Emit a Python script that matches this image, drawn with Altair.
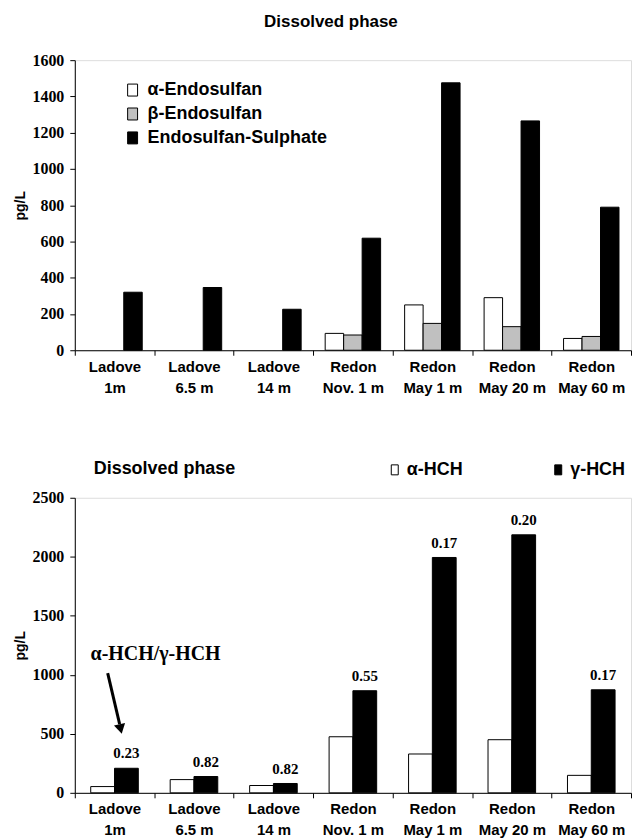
import altair as alt
import pandas as pd

SANS = "Liberation Sans"
SERIF = "Liberation Serif"

sites = ["Ladove|1m", "Ladove|6.5 m", "Ladove|14 m", "Redon|Nov. 1 m",
         "Redon|May 1 m", "Redon|May 20 m", "Redon|May 60 m"]

endo_names = ["α-Endosulfan", "β-Endosulfan", "Endosulfan-Sulphate"]
alpha_endo = [None, None, None, 93, 250, 290, 65]
beta_endo = [None, None, None, 84, 148, 130, 76]
endo_sulph = [320, 346, 226, 618, 1475, 1265, 789]

hch_names = ["α-HCH", "γ-HCH"]
alpha_hch = [53, 112, 62, 475, 329, 450, 148]
gamma_hch = [208, 138, 79, 865, 1994, 2186, 873]
ratio_labels = ["0.23", "0.82", "0.82", "0.55", "0.17", "0.20", "0.17"]

top_ticks = [0, 200, 400, 600, 800, 1000, 1200, 1400, 1600]
bottom_ticks = [0, 500, 1000, 1500, 2000, 2500]

W = 558

rows = []
for name, vals in zip(endo_names, [alpha_endo, beta_endo, endo_sulph]):
    for s, v in zip(sites, vals):
        if v is not None:
            rows.append({"site": s, "compound": name, "value": v})
endo_df = pd.DataFrame(rows)

rows = []
for name, vals in zip(hch_names, [alpha_hch, gamma_hch]):
    for s, v in zip(sites, vals):
        rows.append({"site": s, "hch": name, "value": v})
hch_df = pd.DataFrame(rows)
ratio_df = pd.DataFrame({"site": sites, "hch": ["γ-HCH"] * 7,
                         "value": gamma_hch, "ratio": ratio_labels})


def x_enc():
    return alt.X("site:N", sort=sites,
                 scale=alt.Scale(domain=sites, paddingInner=0, paddingOuter=0),
                 axis=alt.Axis(title=None, labelExpr="split(datum.label, '|')",
                               labelAngle=0, tickBand="extent",
                               tickSize=5, labelPadding=4, labelFont=SANS,
                               labelFontSize=15, labelFontWeight="bold",
                               labelColor="black", labelLineHeight=21,
                               labelOverlap=False, domainColor="black",
                               tickColor="black"))


def y_axis(vals):
    return alt.Axis(values=vals, format="d", title="pg/L", grid=False, labelFont=SERIF,
                    labelFontSize=16, labelFontWeight="bold", labelColor="black",
                    tickSize=5, labelPadding=6, domainColor="black",
                    tickColor="black", titleFont=SANS, titleFontSize=14,
                    titleFontWeight="bold", titleColor="black", titlePadding=4)


top = alt.Chart(endo_df).mark_bar(stroke="black", strokeWidth=1).encode(
    x=x_enc(),
    xOffset=alt.XOffset("compound:N", sort=endo_names,
                        scale=alt.Scale(domain=endo_names, paddingInner=0, paddingOuter=0.65)),
    y=alt.Y("value:Q", scale=alt.Scale(domain=[0, 1600], nice=False), axis=y_axis(top_ticks)),
    color=alt.Color("compound:N", sort=endo_names,
                    scale=alt.Scale(domain=endo_names, range=["white", "#c0c0c0", "black"]),
                    legend=alt.Legend(orient="none", legendX=49, legendY=21, title=None,
                                      direction="vertical",
                                      symbolType="M-0.83,-1H0.83V1H-0.83Z", symbolSize=144,
                                      symbolStrokeColor="black", symbolStrokeWidth=1,
                                      labelFont=SANS, labelFontSize=18, labelFontWeight="bold",
                                      labelColor="black", rowPadding=6, labelOffset=6,
                                      labelLimit=300)),
).properties(
    width=W, height=291,
    title=alt.TitleParams("Dissolved phase", font=SANS, fontSize=17, fontWeight="bold",
                          anchor="middle", dx=-22, offset=21, color="black"),
)

bars = alt.Chart(hch_df).mark_bar(stroke="black", strokeWidth=1).encode(
    x=x_enc(),
    xOffset=alt.XOffset("hch:N", sort=hch_names,
                        scale=alt.Scale(domain=hch_names, paddingInner=0, paddingOuter=0.67)),
    y=alt.Y("value:Q", scale=alt.Scale(domain=[0, 2500], nice=False), axis=y_axis(bottom_ticks)),
    color=alt.Color("hch:N", sort=hch_names,
                    scale=alt.Scale(domain=hch_names, range=["white", "black"]),
                    legend=alt.Legend(orient="none", legendX=312, legendY=-37, title=None,
                                      direction="horizontal",
                                      symbolType="M-0.7,-1H0.7V1H-0.7Z", symbolSize=100,
                                      symbolStrokeColor="black", symbolStrokeWidth=1,
                                      labelFont=SANS, labelFontSize=18, labelFontWeight="bold",
                                      labelColor="black", columnPadding=86, labelOffset=3)),
)

labels = alt.Chart(ratio_df).mark_text(font=SERIF, fontSize=15, fontWeight="bold",
                                       color="black", dy=-15, baseline="middle").encode(
    x=alt.X("site:N", sort=sites),
    xOffset=alt.XOffset("hch:N", sort=hch_names),
    y=alt.Y("value:Q"),
    text="ratio:N",
)

note_df = pd.DataFrame({"t": ["α-HCH/γ-HCH"]})
heading_df = pd.DataFrame({"t": ["Dissolved phase"]})
heading = alt.Chart(heading_df).mark_text(font=SANS, fontSize=18, fontWeight="bold",
                                          color="black", baseline="middle", align="left").encode(
    x=alt.value(19), y=alt.value(-29), text="t:N")
note = alt.Chart(note_df).mark_text(font=SERIF, fontSize=20, fontWeight="bold",
                                    color="black", baseline="middle").encode(
    x=alt.value(81), y=alt.value(157), text="t:N")
arrow = alt.Chart(note_df).mark_rule(strokeWidth=3, color="black").encode(
    x=alt.value(33), y=alt.value(176), x2=alt.value(45), y2=alt.value(227))
head = alt.Chart(note_df).mark_point(shape="triangle-down", filled=True, color="black",
                                     size=130, angle=347, opacity=1).encode(
    x=alt.value(46), y=alt.value(232))

bottom = alt.layer(bars, labels, heading, note, arrow, head).properties(
    width=W, height=296,
)

chart = alt.vconcat(top, bottom, spacing=63).resolve_scale(
    color="independent", x="independent", y="independent", xOffset="independent"
).properties(
    padding={"top": 3, "left": 5, "right": 0, "bottom": 0}
).configure_view(stroke="black", strokeWidth=1).configure(background="white")

chart.save("out.html", embed_options={"renderer": "svg", "actions": False})
